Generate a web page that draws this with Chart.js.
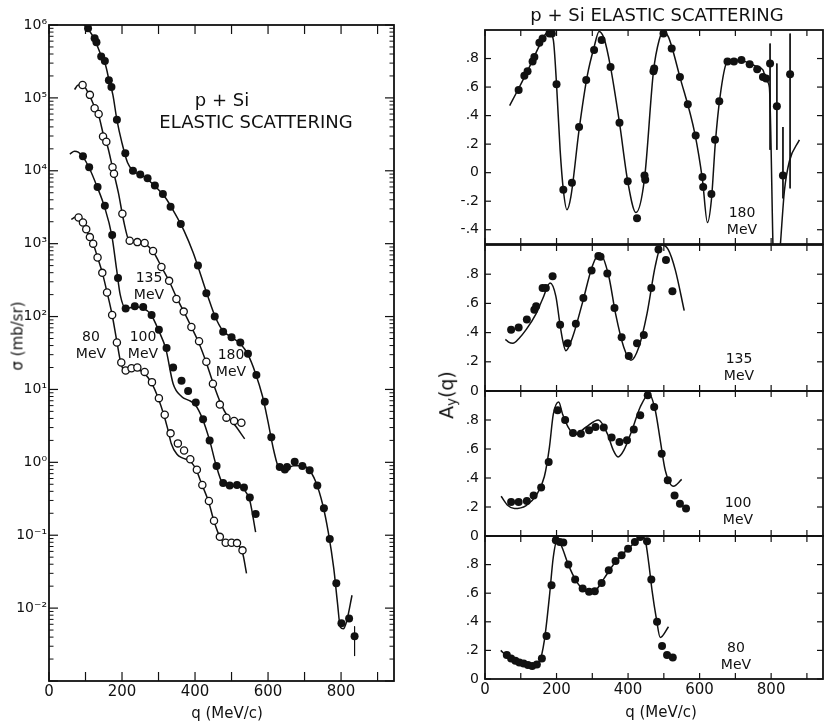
<!DOCTYPE html>
<html>
<head>
<meta charset="utf-8">
<title>p + Si elastic scattering</title>
<script src="https://cdn.jsdelivr.net/npm/chart.js@4.4.1/dist/chart.umd.min.js"></script>
<style>
  body { margin: 0; background: #fff; }
  #page { position: relative; width: 827px; height: 723px; overflow: hidden; font-family: "DejaVu Sans", sans-serif; color: #111; }
  canvas { position: absolute; }
  .txt { position: absolute; transform: translate(-50%, -50%); white-space: nowrap; line-height: 1; }
  .en { font-size: 14px; line-height: 17px; text-align: center; }
  .rot { transform: translate(-50%, -50%) rotate(-90deg); }
  sub { font-size: 70%; vertical-align: -0.25em; }
</style>
</head>
<body>
<div id="page">
  <canvas id="sigma" width="420" height="723" style="left:0;top:0"></canvas>
  <canvas id="ay180" width="397" height="250" style="left:430px;top:0"></canvas>
  <canvas id="ay135" width="397" height="166" style="left:430px;top:235px"></canvas>
  <canvas id="ay100" width="397" height="165" style="left:430px;top:381px"></canvas>
  <canvas id="ay80" width="397" height="197" style="left:430px;top:526px"></canvas>

  <div class="txt" style="left:222px;top:100px;font-size:18px">p + Si</div>
  <div class="txt" style="left:256px;top:122px;font-size:18px">ELASTIC SCATTERING</div>
  <div class="txt" style="left:657px;top:15px;font-size:18px">p + Si ELASTIC SCATTERING</div>

  <div class="txt rot" style="left:18px;top:336px;font-size:15px">σ (mb/sr)</div>
  <div class="txt rot" style="left:448px;top:395px;font-size:19px">A<sub>y</sub>(q)</div>
  <div class="txt" style="left:227px;top:713px;font-size:15px">q (MeV/c)</div>
  <div class="txt" style="left:661px;top:712px;font-size:15px">q (MeV/c)</div>

  <div class="txt en" style="left:149px;top:286px">135<br>MeV</div>
  <div class="txt en" style="left:91px;top:345px">80<br>MeV</div>
  <div class="txt en" style="left:143px;top:345px">100<br>MeV</div>
  <div class="txt en" style="left:231px;top:363px">180<br>MeV</div>

  <div class="txt en" style="left:742px;top:221px">180<br>MeV</div>
  <div class="txt en" style="left:739px;top:367px">135<br>MeV</div>
  <div class="txt en" style="left:738px;top:511px">100<br>MeV</div>
  <div class="txt en" style="left:736px;top:656px">80<br>MeV</div>
</div>

<script>
// ---- axis ticks ----
const X_TICKS = [0, 100, 200, 300, 400, 500, 600, 700, 800, 900];
const SIG_TICKS = [1e-3, 1e-2, 1e-1, 1, 1e1, 1e2, 1e3, 1e4, 1e5, 1e6];
const AY_TICKS_TOP = [-0.4, -0.2, 0, 0.2, 0.4, 0.6, 0.8];
const AY_TICKS = [0, 0.2, 0.4, 0.6, 0.8];

// ---- left: cross sections (mb/sr) vs q (MeV/c) ----
const Q_180 = [107,125,130,143,153,164,171,186,209,230,250,270,290,312,333,361,408,431,454,477,500,524,545,568,591,609,632,646,652,673,694,714,735,753,769,787,801,822,837];
const SIG_180 = [9.0e5,6.6e5,5.8e5,3.7e5,3.2e5,1.74e5,1.41e5,5.0e4,1.74e4,1.0e4,8.9e3,7.9e3,6.3e3,4.8e3,3.2e3,1.86e3,500,209,100,62,52,44,31,15.8,6.8,2.2,0.86,0.80,0.86,1.02,0.89,0.78,0.48,0.234,0.089,0.022,0.0062,0.0072,0.0041];
const FIT_Q_180 = [88,107,125,143,155,165,175,186,200,215,230,260,290,320,345,370,395,415,435,455,475,500,525,545,565,585,600,615,630,650,670,690,710,730,750,765,780,790,798,806,815,830];
const FIT_SIG_180 = [1.1e6,8.8e5,6.3e5,3.8e5,2.8e5,1.7e5,1.1e5,5e4,2.4e4,1.3e4,1.0e4,8.3e3,6.2e3,4.2e3,2.6e3,1.5e3,750,380,190,100,65,52,42,30,17,8,3.6,1.5,0.85,0.82,0.9,0.9,0.82,0.55,0.26,0.11,0.035,0.012,0.0055,0.0052,0.0065,0.015];
const ERR_Q_SIG = [837];
const ERR_HI_SIG = [0.0056];
const ERR_LO_SIG = [0.0022];

const Q_135 = [92,112,125,136,148,157,174,178,201,221,242,262,285,308,329,349,369,390,411,431,449,468,486,507,527];
const SIG_135 = [1.5e5,1.1e5,7.2e4,6.0e4,2.95e4,2.5e4,1.12e4,9.1e3,2.57e3,1.1e3,1.05e3,1.02e3,794,479,309,174,117,72,46,24,12,6.2,4.1,3.7,3.5];
const FIT_Q_135 = [70,80,92,110,125,137,150,160,175,190,205,218,240,262,285,310,330,350,370,390,410,430,450,470,490,510,536];
const FIT_SIG_135 = [1.3e5,1.5e5,1.5e5,1.1e5,7.5e4,5.5e4,3e4,2.2e4,1.05e4,5e3,2e3,1.15e3,1.05e3,1e3,780,460,300,180,115,72,44,24,12,6.5,4.2,3.2,2.1];

const Q_100 = [93,110,133,153,173,189,210,235,258,281,301,322,340,363,381,402,422,440,459,477,495,515,534,550,566];
const SIG_100 = [1.58e4,1.12e4,6.0e3,3.3e3,1.32e3,339,129,138,135,105,66,37,20,13.2,9.5,6.6,3.9,2.0,0.89,0.52,0.48,0.49,0.45,0.33,0.195];
const FIT_Q_100 = [57,70,80,93,110,132,152,172,185,195,210,235,258,280,300,320,340,363,385,400,420,440,458,475,495,515,535,550,566];
const FIT_SIG_100 = [1.7e4,1.85e4,1.8e4,1.55e4,1.1e4,6e3,3.2e3,1.3e3,450,200,130,135,130,105,65,36,12,8,7,6.2,4,2,0.9,0.52,0.47,0.47,0.42,0.3,0.11];

const Q_80 = [81,93,102,112,121,133,146,159,173,186,198,210,226,242,262,282,301,317,333,353,370,387,405,420,438,452,468,484,500,515,530];
const SIG_80 = [2.29e3,1.95e3,1.58e3,1.23e3,1.0e3,646,398,214,105,44,23.4,18.2,19.5,20,17.4,12.6,7.6,4.5,2.5,1.82,1.45,1.10,0.79,0.49,0.295,0.158,0.095,0.079,0.079,0.078,0.062];
const FIT_Q_80 = [61,72,81,93,111,121,133,146,159,173,186,196,210,226,242,262,282,300,315,325,335,350,365,385,400,420,437,452,468,484,500,515,530,541];
const FIT_SIG_80 = [2.15e3,2.3e3,2.2e3,1.9e3,1.25e3,1.0e3,650,400,215,105,45,24,17,18,18.5,16.5,12,7.4,4.4,2.9,1.8,1.3,1.15,1.05,0.85,0.48,0.29,0.155,0.095,0.078,0.077,0.074,0.058,0.03];

// ---- right: analysing power Ay vs q ----
const AY_Q_180 = [94,110,119,133,138,152,161,180,187,200,219,243,263,283,305,326,351,376,399,425,446,448,471,473,499,522,545,567,589,608,610,633,643,655,678,696,717,740,761,777,786,797,816,833,853];
const AY_180 = [0.58,0.68,0.71,0.78,0.81,0.91,0.94,0.975,0.975,0.62,-0.12,-0.07,0.32,0.65,0.86,0.93,0.74,0.35,-0.06,-0.32,-0.02,-0.05,0.71,0.73,0.975,0.87,0.67,0.48,0.26,-0.03,-0.10,-0.15,0.23,0.50,0.78,0.78,0.79,0.76,0.725,0.67,0.66,0.765,0.466,-0.02,0.69];
const AY_FIT_Q_180 = [69,94,124,152,166,178,191,200,210,219,229,240,263,286,305,319,333,351,376,399,422,446,471,487,499,513,545,587,608,622,633,644,657,676,698,726,754,777,788,795,805,815,826,837,851,879];
const AY_FIT_180 = [0.47,0.59,0.74,0.89,0.96,0.99,0.93,0.62,0.16,-0.12,-0.26,-0.17,0.30,0.68,0.88,0.99,0.94,0.74,0.35,-0.06,-0.28,-0.04,0.71,0.93,0.99,0.95,0.67,0.27,-0.05,-0.35,-0.19,0.21,0.53,0.77,0.79,0.78,0.75,0.72,0.64,0.6,-0.5,null,-0.5,-0.13,0.08,0.23];
const AY_ERR_Q = [797, 816, 833, 853];
const AY_ERR_HI = [0.905, 0.765, 0.32, 0.975];
const AY_ERR_LO = [0.16, 0.16, -0.18, -0.11];

const AY_Q_135 = [73,94,117,138,143,161,170,189,210,231,254,275,298,317,323,342,362,382,402,425,444,465,485,506,524];
const AY_135 = [0.42,0.435,0.49,0.557,0.58,0.706,0.706,0.786,0.453,0.327,0.46,0.637,0.826,0.924,0.92,0.805,0.568,0.368,0.24,0.327,0.384,0.706,0.97,0.897,0.683];
const AY_FIT_Q_135 = [57,66,78,95,115,143,161,182,198,210,217,226,245,272,300,321,346,365,388,408,430,453,476,494,512,532,557];
const AY_FIT_135 = [0.354,0.335,0.327,0.36,0.42,0.53,0.63,0.74,0.65,0.45,0.35,0.276,0.37,0.6,0.855,0.943,0.786,0.53,0.3,0.21,0.3,0.53,0.855,1.0,0.97,0.83,0.55];

const AY_Q_100 = [73,94,117,136,157,178,203,224,246,268,291,309,332,354,376,397,416,434,455,473,494,511,530,545,562];
const AY_100 = [0.234,0.234,0.241,0.28,0.334,0.51,0.867,0.80,0.71,0.706,0.729,0.752,0.748,0.679,0.648,0.66,0.734,0.832,0.97,0.89,0.568,0.384,0.28,0.223,0.189];
const AY_FIT_Q_100 = [45,64,82,115,143,166,180,191,206,217,235,251,282,317,342,359,372,388,411,434,459,476,490,504,527,550];
const AY_FIT_100 = [0.274,0.21,0.189,0.21,0.28,0.41,0.61,0.84,0.924,0.84,0.74,0.70,0.75,0.80,0.706,0.59,0.545,0.59,0.73,0.89,0.98,0.867,0.66,0.453,0.343,0.39];

const AY_Q_80 = [61,73,85,96,108,120,132,145,159,172,186,198,209,219,233,252,273,291,307,326,346,365,382,400,419,434,453,465,481,495,509,525];
const AY_80 = [0.167,0.144,0.128,0.116,0.109,0.098,0.091,0.102,0.144,0.30,0.656,0.97,0.958,0.954,0.80,0.696,0.633,0.61,0.614,0.672,0.76,0.826,0.865,0.91,0.958,0.993,0.963,0.696,0.40,0.23,0.167,0.151];
const AY_FIT_Q_80 = [44,69,96,128,152,166,180,191,203,215,233,254,277,291,309,332,365,400,425,437,448,458,467,479,490,513];
const AY_FIT_80 = [0.20,0.144,0.11,0.085,0.12,0.27,0.574,0.853,0.98,0.923,0.80,0.69,0.62,0.61,0.62,0.70,0.82,0.91,0.97,1.0,0.97,0.807,0.62,0.424,0.29,0.365];

const INK = '#111';
Chart.defaults.font.family = '"DejaVu Sans", sans-serif';
Chart.defaults.color = INK;

const pts = (xs, ys) => xs.map((x, i) => ({ x, y: ys[i] }));
// error bars as short vertical segments, separated by gaps
const bars = (xs, lo, hi) => xs.flatMap((x, i) => [{ x, y: hi[i] }, { x, y: lo[i] }, { x, y: null }]);

// minor log ticks 2..9 in every decade
const LOG_MINOR = [];
for (let d = -3; d < 6; d++) for (let k = 2; k <= 9; k++) LOG_MINOR.push(k * Math.pow(10, d));

const SUP = { '-': '⁻', '0': '⁰', '1': '¹', '2': '²', '3': '³', '4': '⁴', '5': '⁵', '6': '⁶' };
const powLabel = v => {
  const e = Math.round(Math.log10(v));
  if (e < -2) return '';
  return '10' + String(e).split('').map(c => SUP[c]).join('');
};
const ayLabel = v => {
  if (Math.abs(v) < 1e-9) return '0';
  return (v < 0 ? '-' : '') + '.' + Math.round(Math.abs(v) * 10);
};

// box round the plot area, with inward tick marks on all four sides
const frame = {
  id: 'frame',
  afterDatasetsDraw(chart, args, o) {
    const { ctx, chartArea: a } = chart;
    const xs = chart.scales.x, ys = chart.scales.y;
    const seg = (x1, y1, x2, y2) => { ctx.beginPath(); ctx.moveTo(x1, y1); ctx.lineTo(x2, y2); ctx.stroke(); };
    ctx.save();
    ctx.strokeStyle = INK;
    ctx.lineWidth = 1.2;
    o.xTicks.forEach(v => {
      const px = xs.getPixelForValue(v);
      seg(px, a.bottom, px, a.bottom - o.len);
      seg(px, a.top, px, a.top + o.len);
    });
    o.yTicks.forEach(v => {
      const py = ys.getPixelForValue(v);
      seg(a.left, py, a.left + o.len, py);
      seg(a.right, py, a.right - o.len, py);
    });
    ctx.lineWidth = 1;
    (o.yMinor || []).forEach(v => {
      const py = ys.getPixelForValue(v);
      seg(a.left, py, a.left + o.len / 2, py);
      seg(a.right, py, a.right - o.len / 2, py);
    });
    ctx.lineWidth = 1.8;
    ctx.strokeRect(a.left, a.top, a.right - a.left, a.bottom - a.top);
    ctx.restore();
  }
};

const filled = data => ({ data, showLine: false, pointRadius: 4, pointBackgroundColor: INK, pointBorderColor: INK, pointBorderWidth: 0, order: 0 });
const open = data => ({ data, showLine: false, pointRadius: 3.6, pointBackgroundColor: '#fff', pointBorderColor: INK, pointBorderWidth: 1.3, order: 0 });
const fit = data => ({ data, borderColor: INK, borderWidth: 1.5, pointRadius: 0, cubicInterpolationMode: 'monotone', spanGaps: false, order: 1 });
const errs = data => ({ data, borderColor: INK, borderWidth: 1, pointRadius: 0, spanGaps: false, order: 2 });

function xScale(showLabels, height) {
  return {
    type: 'linear', min: 0, max: 945,
    grid: { display: false, drawTicks: false }, border: { display: false },
    afterBuildTicks: s => { s.ticks = X_TICKS.map(v => ({ value: v })); },
    afterFit: s => { s.height = height; s.paddingLeft = 0; s.paddingRight = 0; },
    ticks: {
      display: showLabels, autoSkip: false, maxRotation: 0, padding: 2,
      font: { size: 15 },
      callback: v => (v % 200 === 0 && v <= 800 ? String(v) : '')
    }
  };
}

function makeChart(id, datasets, pad, x, y, frameOpts) {
  return new Chart(document.getElementById(id), {
    type: 'line',
    data: { datasets },
    options: {
      responsive: false, animation: false, events: [],
      layout: { padding: pad },
      plugins: { legend: { display: false }, tooltip: { enabled: false }, frame: frameOpts },
      scales: { x, y }
    },
    plugins: [frame]
  });
}

// ---- left panel ----
makeChart('sigma', [
  filled(pts(Q_180, SIG_180)),
  open(pts(Q_135, SIG_135)),
  filled(pts(Q_100, SIG_100)),
  open(pts(Q_80, SIG_80)),
  fit(pts(FIT_Q_180, FIT_SIG_180)),
  fit(pts(FIT_Q_135, FIT_SIG_135)),
  fit(pts(FIT_Q_100, FIT_SIG_100)),
  fit(pts(FIT_Q_80, FIT_SIG_80)),
  errs(bars(ERR_Q_SIG, ERR_LO_SIG, ERR_HI_SIG))
], { top: 25, right: 26, bottom: 0, left: 0 },
xScale(true, 42),
{
  type: 'logarithmic', min: 1e-3, max: 1e6,
  grid: { display: false, drawTicks: false }, border: { display: false },
  afterBuildTicks: s => { s.ticks = SIG_TICKS.map(v => ({ value: v })); },
  afterFit: s => { s.width = 49; s.paddingTop = 0; s.paddingBottom = 0; },
  ticks: { autoSkip: false, padding: 2, font: { size: 14 }, callback: v => powLabel(v) }
},
{ xTicks: X_TICKS, yTicks: SIG_TICKS, yMinor: LOG_MINOR, len: 9 });

// ---- right panels ----
function ayPanel(id, datasets, min, ticks, pad, xHeight, showX) {
  makeChart(id, datasets, pad, xScale(showX, xHeight), {
    type: 'linear', min, max: 1,
    grid: { display: false, drawTicks: false }, border: { display: false },
    afterBuildTicks: s => { s.ticks = ticks.map(v => ({ value: v })); },
    afterFit: s => { s.width = 55; s.paddingTop = 0; s.paddingBottom = 0; },
    ticks: { autoSkip: false, padding: 6, font: { size: 14 }, callback: v => ayLabel(v) }
  }, { xTicks: X_TICKS, yTicks: ticks, len: 6 });
}

ayPanel('ay180', [
  filled(pts(AY_Q_180, AY_180)),
  fit(pts(AY_FIT_Q_180, AY_FIT_180)),
  errs(bars(AY_ERR_Q, AY_ERR_LO, AY_ERR_HI))
], -0.5, AY_TICKS_TOP, { top: 30, right: 2, bottom: 0, left: 0 }, 6, false);

ayPanel('ay135', [
  filled(pts(AY_Q_135, AY_135)),
  fit(pts(AY_FIT_Q_135, AY_FIT_135))
], 0, AY_TICKS, { top: 10, right: 2, bottom: 0, left: 0 }, 10, false);

ayPanel('ay100', [
  filled(pts(AY_Q_100, AY_100)),
  fit(pts(AY_FIT_Q_100, AY_FIT_100))
], 0, AY_TICKS, { top: 10, right: 2, bottom: 0, left: 0 }, 10, false);

ayPanel('ay80', [
  filled(pts(AY_Q_80, AY_80)),
  fit(pts(AY_FIT_Q_80, AY_FIT_80))
], 0, AY_TICKS, { top: 10, right: 2, bottom: 0, left: 0 }, 44, true);
</script>
</body>
</html>
